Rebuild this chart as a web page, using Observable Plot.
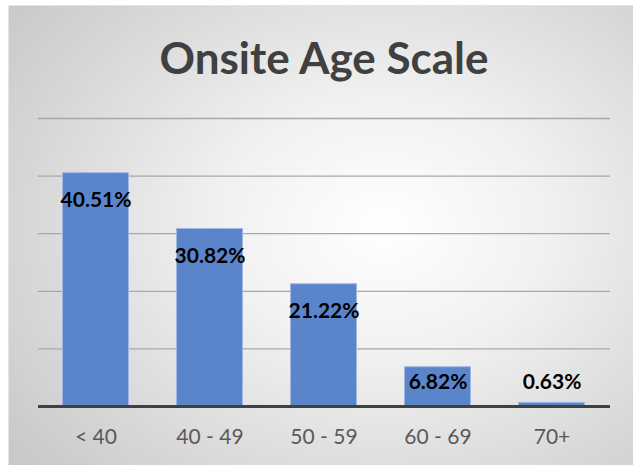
<!DOCTYPE html>
<html>
<head>
<meta charset="utf-8">
<script src="https://cdn.jsdelivr.net/npm/d3@7"></script>
<script src="https://cdn.jsdelivr.net/npm/@observablehq/plot@0.6"></script>
<style>
  html, body { margin: 0; padding: 0; background: #fff; }
  #page { position: relative; width: 633px; height: 465px; overflow: hidden; }
  #bg {
    position: absolute; left: 8px; top: 5px; width: 625px; height: 460px;
    background: radial-gradient(ellipse 75% 80% at 60% 48%, #ffffff 0%, #f1f1f1 35%, #d8d8d8 75%, #c9c9c9 100%);
    border-left: 1px solid #e4e4e4; border-top: 1px solid #e4e4e4; box-sizing: border-box;
  }
  #title {
    position: absolute; left: 0; top: 30px; width: 648px; text-align: center;
    font-family: Lato, "Open Sans", sans-serif; font-weight: 700; font-size: 44px;
    color: #404040; line-height: 54px;
  }
  #chart { position: absolute; left: 0; top: 100px; }
</style>
</head>
<body>
<div id="page">
  <div id="bg"></div>
  <div id="title">Onsite Age Scale</div>
  <div id="chart"></div>
</div>
<script>
const categories = ["< 40", "40 - 49", "50 - 59", "60 - 69", "70+"];
const values = [40.51, 30.82, 21.22, 6.82, 0.63];
const valueLabels = ["40.51%", "30.82%", "21.22%", "6.82%", "0.63%"];
const gridTicks = [10, 20, 30, 40, 50];

const data = categories.map((c, i) => ({category: c, value: values[i], label: valueLabels[i]}));

const chart = Plot.plot({
  width: 633,
  height: 365,
  marginLeft: 38,
  marginRight: 23,
  marginTop: 18,
  marginBottom: 59,
  style: {background: "transparent", fontFamily: "Lato, 'Open Sans', sans-serif", overflow: "visible"},
  x: {domain: categories, paddingInner: 0.41, paddingOuter: 0.205, label: null},
  y: {domain: [0, 50], label: null, axis: null},
  marks: [
    Plot.ruleY(gridTicks, {stroke: "#a8a8a8", strokeWidth: 1.3}),
    Plot.barY(data, {x: "category", y: "value", fill: "#5b85cb", stroke: "#9fb8e3", strokeWidth: 1, insetLeft: 0.5, insetRight: 0.5}),
    Plot.ruleY([0], {stroke: "#404040", strokeWidth: 3}),
    Plot.text(data, {
      x: "category",
      y: d => d.value >= 10 ? d.value - 4.7 : 4.2,
      text: "label",
      fill: "#000",
      fontSize: 21,
      fontWeight: "bold"
    }),
    Plot.axisX({tickSize: 0, tickPadding: 23, fontSize: 21, color: "#595959", fill: "#595959"})
  ]
});
document.getElementById("chart").appendChild(chart);
</script>
</body>
</html>
